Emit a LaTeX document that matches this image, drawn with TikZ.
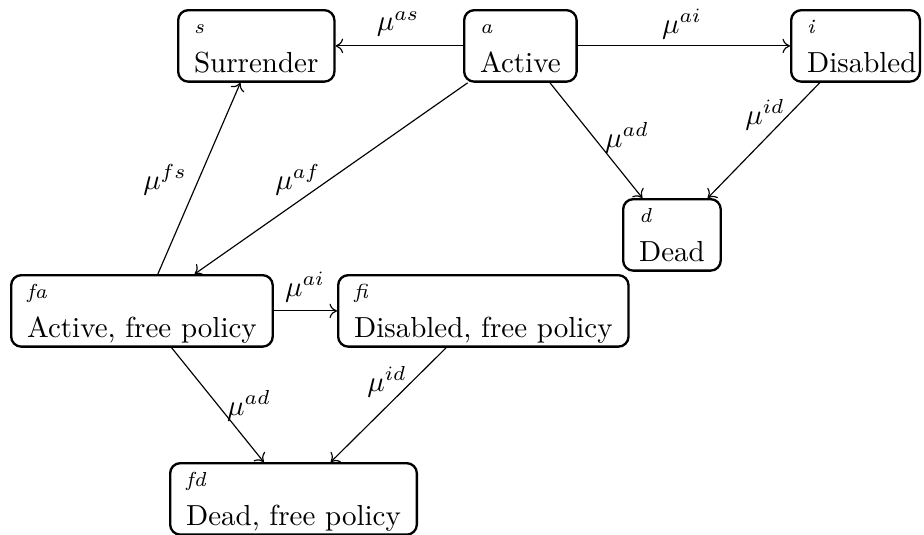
\documentclass[tikz,border=0pt]{standalone}
\usetikzlibrary{arrows.meta}
\begin{document}
\newcommand{\stlabel}[2]{\rule{0pt}{8.2pt}{\scriptsize\itshape #1}\\[1.4pt]\mbox{#2}\rule[-3.05pt]{0pt}{0pt}}
\begin{tikzpicture}[x=0.3448pt,y=-0.3448pt,
  state/.style={draw, rounded corners=3.5pt, line width=0.8pt, inner xsep=5.5pt, inner ysep=0pt,
                align=left, font=\normalsize, anchor=north west},
  rate/.style={font=\normalsize, inner sep=0pt},
  tr/.style={-{To[length=2.6pt,width=5pt]}, line width=0.4pt}]
\useasboundingbox (0,0) rectangle (924,535);
% states
\node[state] (s)  at (177,9)   {\stlabel{s}{Surrender}};
\node[state] (a)  at (463,9)   {\stlabel{a}{Active}};
\node[state, text width=33.4pt] (i) at (790,9) {\stlabel{i}{Disabled}};
\node[state] (d)  at (622,198) {\stlabel{d}{Dead}};
\node[state] (fa) at (10,274)  {\stlabel{fa}{Active, free policy}};
\node[state] (fi) at (337,274) {\stlabel{fi}{Disabled, free policy}};
\node[state] (fd) at (169,462) {\stlabel{fd}{Dead, free policy}};
% transitions
\draw[tr] (a) -- (s);
\draw[tr] (a) -- (i);
\draw[tr] (a) -- (d);
\draw[tr] (i) -- (d);
\draw[tr] (a) -- (fa);
\draw[tr] (fa) -- (s);
\draw[tr] (fa) -- (fi);
\draw[tr] (fa) -- (fd);
\draw[tr] (fi) -- (fd);
% rates
\node[rate] (las)  at (398,24)  {$\mu^{as}$};
\node[rate] (lai)  at (682,24)  {$\mu^{ai}$};
\node[rate] (lad)  at (627,138) {$\mu^{ad}$};
\node[rate] (lid)  at (765,115) {$\mu^{id}$};
\node[rate] (laf)  at (298,180) {$\mu^{af}$};
\node[rate] (lfs)  at (165,180) {$\mu^{fs}$};
\node[rate] (lai2) at (305,287) {$\mu^{ai}$};
\node[rate] (lad2) at (249,406) {$\mu^{ad}$};
\node[rate] (lid2) at (387,382) {$\mu^{id}$};
\end{tikzpicture}
\end{document}
